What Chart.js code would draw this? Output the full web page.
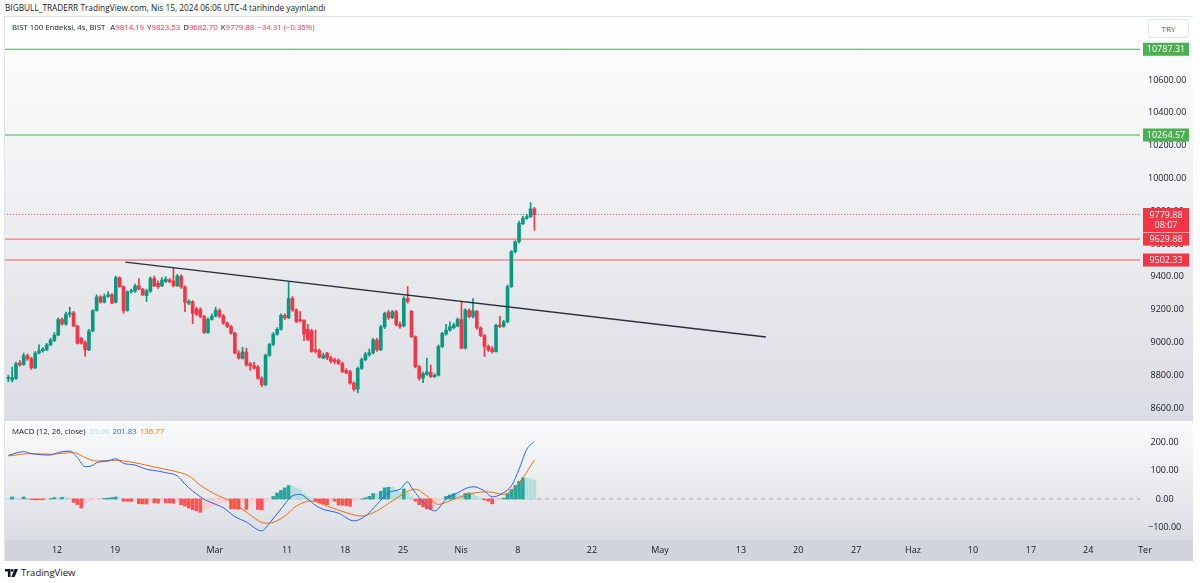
<!DOCTYPE html>
<html lang="tr">
<head>
  <meta charset="UTF-8">
  <title>BIST 100 Endeksi, 4s</title>
  <style>
    body { margin: 0; width: 1200px; height: 583px; background: #fff; font-family: "Open Sans", Arial, sans-serif; color: #131722; position: relative; overflow: hidden; }
    .top { position: absolute; left: 5px; top: 2px; font-size: 8.3px; white-space: nowrap; }
    .frame { position: absolute; left: 4px; top: 16px; width: 1189px; height: 545px; border: 1px solid #e0e3eb; box-sizing: border-box; }
    .pane { position: absolute; left: 5px; width: 1188px; }
    #pricePane { top: 17px; height: 404px; }
    #macdPane { top: 422px; height: 139px; }
    .legend { position: absolute; left: 12px; font-size: 7.8px; white-space: nowrap; }
    .legend span { margin-left: 3px; }
    .legend .red { color: #f23645; margin-left: 0; }
    .try { position: absolute; left: 1148px; top: 19px; width: 41px; height: 19px; background: #fff; border: 1px solid #e0e3eb; border-radius: 3px; font-size: 8px; color: #50535e; text-align: center; line-height: 18px; box-sizing: border-box; }
    .logo { position: absolute; left: 5px; top: 566px; font-size: 9.5px; display: flex; align-items: center; gap: 3px; }
  </style>
</head>
<body>
  <div class="top">BIGBULL_TRADERR TradingView.com, Nis 15, 2024 06:06 UTC-4 tarihinde yayınlandı</div>
  <div class="frame"></div>
  <div class="pane" id="pricePane"><canvas id="priceChart"></canvas></div>
  <div class="pane" id="macdPane"><canvas id="macdChart"></canvas></div>
  <div class="legend" style="top:22px">BIST 100 Endeksi, 4s, BIST <span>A<span class="red">9814.19</span></span><span>Y<span class="red">9823.53</span></span><span>D<span class="red">9682.70</span></span><span>K<span class="red">9779.88</span></span><span class="red" style="margin-left:3px">−34.31 (−0.35%)</span></div>
  <div class="legend" style="top:426px">MACD (12, 26, close)<span style="color:#b2dfdb;margin-left:4px">65.06</span><span style="color:#2962ff">201.83</span><span style="color:#ff6d00">136.77</span></div>
  <div class="try">TRY</div>
  <div class="logo">
    <svg width="13" height="8" viewBox="0 0 13 8"><path d="M0 0h5.5v8h-2.6V2.6H0z" fill="#131722"/><circle cx="7.2" cy="1.4" r="1.4" fill="#131722"/><path d="M9.6 0h3.4l-3.4 8H6.4z" fill="#131722"/></svg>
    <span>TradingView</span>
  </div>

  <script src="https://cdn.jsdelivr.net/npm/chart.js"></script>
  <script>
    // 4h candles (index 0 = first bar on the left)
    const opens  = [8780,8770,8780,8875,8865,8920,8900,8845,8935,8950, 8955,8985,9012,9045,9140,9112,9172,9180,9100,9025,
                    9000,8955,9070,9195,9278,9245,9280,9290,9245,9395, 9340,9195,9308,9312,9345,9325,9285,9312,9390,9360,
                    9345,9372,9380,9375,9345,9405,9338,9240,9248,9205, 9200,9158,9060,9140,9160,9195,9162,9118,9097,9056,
                    8935,8904,8942,8870,8858,8850,8782,8742,8922,8988, 9050,9080,9165,9150,9268,9198,9140,9135,9080,9070,
                    8955,8950,8905,8935,8905,8895,8890,8872,8830,8820, 8752,8715,8842,8895,8925,8937,9015,8955,9095,9185,
                    9150,9187,9110,9100,9268,9190,9035,8852,8782,8805, 8818,8792,8800,8975,9052,9075,9090,9100,9140,8965,
                    9195,9158,9190,9088,9042,8975,8962,8944,9106,9098, 9125,9340,9553,9614,9724,9757,9767,9814.19];
    const highs  = [8800,8850,8880,8890,8935,8930,8910,8945,8985,8970, 8995,9025,9060,9150,9150,9185,9215,9190,9105,9030,
                    9010,9080,9200,9290,9285,9295,9310,9300,9405,9400, 9345,9315,9325,9355,9390,9330,9325,9400,9405,9375,
                    9395,9400,9390,9458,9415,9412,9345,9260,9255,9215, 9212,9165,9150,9175,9215,9205,9170,9125,9105,9062,
                    8950,8970,8965,8878,8880,8860,8790,8930,8995,9060, 9090,9175,9175,9370,9280,9205,9188,9140,9110,9080,
                    9075,8960,8935,8940,8915,8905,8900,8880,8840,8830, 8760,8850,8905,8940,8960,9025,9025,9105,9185,9195,
                    9195,9195,9125,9280,9340,9195,9040,8860,8820,8905, 8862,8810,8985,9062,9110,9125,9118,9150,9248,9205,
                    9205,9268,9195,9095,9048,8985,8975,9112,9160,9135, 9350,9560,9620,9740,9770,9780,9852,9823.53];
    const lows   = [8760,8760,8775,8855,8860,8890,8835,8840,8930,8940, 8950,8980,9005,9040,9105,9105,9155,9095,8990,8990,
                    8915,8950,9065,9190,9240,9240,9275,9235,9240,9335, 9178,9190,9300,9305,9320,9285,9250,9305,9340,9330,
                    9340,9365,9362,9338,9340,9330,9188,9230,9115,9165, 9150,9055,9055,9135,9155,9150,9110,9090,9050,8930,
                    8898,8898,8855,8830,8838,8775,8730,8735,8915,8980, 9045,9075,9140,9145,9190,9120,9125,9010,9010,8940,
                    8935,8905,8900,8895,8875,8870,8865,8815,8810,8745, 8705,8693,8835,8888,8915,8930,8945,8950,9085,9140,
                    9145,9100,9085,9095,9240,9030,8845,8770,8754,8800, 8785,8785,8795,8968,9045,9068,9082,9095,8960,8960,
                    9150,9150,9080,9035,8913,8945,8935,8940,9090,9092, 9120,9335,9545,9605,9718,9750,9760,9682.70];
    const closes = [8785,8785,8870,8865,8920,8900,8845,8935,8950,8960, 8985,9015,9045,9140,9112,9172,9180,9100,8995,8995,
                    8955,9070,9195,9278,9245,9280,9290,9240,9395,9340, 9192,9308,9315,9345,9325,9290,9315,9390,9345,9340,
                    9380,9386,9370,9345,9405,9338,9245,9250,9178,9172, 9158,9060,9140,9160,9197,9160,9118,9097,9056,8935,
                    8904,8942,8862,8858,8843,8782,8742,8922,8988,9050, 9080,9165,9150,9268,9198,9128,9132,9050,9018,8945,
                    8945,8910,8922,8905,8885,8883,8872,8822,8816,8752, 8715,8842,8896,8928,8937,9015,8955,9095,9177,9150,
                    9187,9108,9098,9268,9250,9035,8852,8782,8810,8822, 8792,8800,8975,9055,9075,9096,9106,9140,8965,9197,
                    9158,9193,9088,9042,8975,8955,8944,9105,9097,9125, 9340,9553,9614,9726,9757,9767,9814,9779.88];

    // drawn levels and the trend line
    const levelValues = [10787.31, 10264.57, 9629.88, 9502.33];
    const lastPrice = 9779.88;
    const trendIdx = [30.5, 197.3];
    const trendVal = [9490, 9033];

    // MACD pane
    const histValues = [2,7,3,2,7,1,-2,-3,-3,-3, -2,1,5,5,6,6,2,-12,-20,-32,
                        -15,-8,-5,-3,-1,2,3,5,7,2, -8,-8,-9,-5,-17,-17,-18,-6,-14,-15,
                        -6,-14,-14,-15,-8,-20,-25,-32,-38,-42, -47,-40,-33,-27,-22,-17,-12,-10,-35,-35,
                        -36,-15,-37,-15,-10,-37,-38,-12,-5,9, 21,30,39,47,44,39,33,19,9,4,
                        -8,-14,-17,-20,-8,-8,-22,-22,-23,-26, -8,-4,0,4,9,19,19,27,39,41,
                        41,33,23,35,21,9,-8,-20,-28,-35, -37,-20,-10,-4,9,14,19,19,12,19,
                        21,21,9,4,-4,-8,-17,-5,-2,3, 19,33,47,62,74,73,70,65.06];
    const macdIdx = [0,4,6,11,13,16,18,20,22,23, 26,28,30,33,36,39,41,44,46,48, 51,54,56,59,62,66,68,71,74,76,
                     78,81,86,90,93,96,99,102,104,105, 107,109,111,114,117,121,124,126,129,131, 133,135,137];
    const macdVal = [153,166,159,154,163,168,145,113,118,127, 133,141,125,119,104,98,92,81,52,28, -1,-19,-31,-62,-81,-112,-85,-35,11,16,
                     -1,-31,-50,-77,-60,-19,22,34,60,40, 5,-25,-42,-1,22,43,28,7,22,46, 104,174,201.83];
    const signalIdx = [0,6,11,17,20,23,27,33,38,43, 47,50,54,58,62,67,69,72,75,79, 83,88,92,96,100,106,109,112,116,121, 125,129,133,137];
    const signalVal = [151,159,157,163,145,133,136,127,112,98, 81,48,16,-9,-46,-85,-82,-60,-25,-7, -25,-48,-60,-42,-7,34,11,-19,-1,20, 25,16,57,136.77];

    // time axis (bar index positions of the date labels)
    const timeTickPos = [12.7, 27.8, 53.8, 72.6, 87.7, 102.8, 117.9, 132.7, 152.0, 169.7, 190.8, 205.7, 220.8, 235.6, 251.2, 266.3, 281.2, 296.0];
    const timeTickLabels = ['12', '19', 'Mar', '11', '18', '25', 'Nis', '8', '22', 'May', '13', '20', '27', 'Haz', '10', '17', '24', 'Ter'];

    const UP = '#089981', DOWN = '#f23645';
    const GREEN_LVL = '#4caf50';
    const FONT = '"Open Sans", Arial, sans-serif';
    const X_MIN = -0.86, X_MAX = 294.7;
    const AXIS_W = 53;

    Chart.defaults.font.family = FONT;
    Chart.defaults.font.size = 9;
    Chart.defaults.color = '#131722';

    const candleColor = ctx => closes[ctx.dataIndex] >= opens[ctx.dataIndex] ? UP : DOWN;
    const flat = (v, color, dash, width) => ({
      type: 'line', data: [{ x: X_MIN - 1, y: v }, { x: X_MAX + 1, y: v }],
      borderColor: color, borderWidth: width || 1, borderDash: dash || [], pointRadius: 0, order: 5
    });

    const gradientFill = {
      id: 'gradientFill',
      beforeDraw(chart, args, opts) {
        const c = chart.ctx, a = chart.chartArea;
        const g = c.createLinearGradient(0, 0, 0, a.bottom);
        g.addColorStop(0, opts.top);
        g.addColorStop(1, opts.bottom);
        c.save();
        c.fillStyle = g;
        c.fillRect(0, 0, chart.width, a.bottom);
        if (opts.axisStrip) {
          c.fillStyle = '#d1d4dc';
          c.fillRect(0, a.bottom, chart.width, chart.height - a.bottom);
        }
        c.restore();
      }
    };

    function tag(c, x, y, w, text, color, sub) {
      const h = sub ? 24 : 13;
      c.fillStyle = color;
      c.fillRect(x, y - 6.5, w, h);
      c.fillStyle = '#fff';
      c.textAlign = 'center';
      c.textBaseline = 'middle';
      c.fillText(text, x + w / 2, y + 0.5);
      if (sub) c.fillText(sub, x + w / 2, y + 11);
    }

    const priceTags = {
      id: 'priceTags',
      afterDraw(chart) {
        const c = chart.ctx, ys = chart.scales.y, x0 = chart.chartArea.right + 3;
        c.save();
        c.font = '9px ' + FONT;
        tag(c, x0, ys.getPixelForValue(levelValues[0]), 46, levelValues[0].toFixed(2), GREEN_LVL);
        tag(c, x0, ys.getPixelForValue(levelValues[1]), 46, levelValues[1].toFixed(2), GREEN_LVL);
        tag(c, x0, ys.getPixelForValue(levelValues[3]), 46, levelValues[3].toFixed(2), DOWN);
        tag(c, x0, ys.getPixelForValue(levelValues[2]), 46, levelValues[2].toFixed(2), DOWN);
        tag(c, x0, ys.getPixelForValue(lastPrice), 46, lastPrice.toFixed(2), DOWN, '08:07');
        c.restore();
      }
    };

    const timeLabels = {
      id: 'timeLabels',
      afterDraw(chart) {
        const c = chart.ctx, xs = chart.scales.x, a = chart.chartArea;
        c.save();
        c.font = '9px ' + FONT;
        c.fillStyle = '#131722';
        c.textAlign = 'center';
        c.textBaseline = 'middle';
        timeTickPos.forEach((p, i) => c.fillText(timeTickLabels[i], xs.getPixelForValue(p), (a.bottom + chart.height) / 2));
        c.restore();
      }
    };

    const rightAxis = (min, max, step) => ({
      position: 'right', min, max,
      grid: { display: false }, border: { display: false },
      afterFit: s => { s.width = AXIS_W; s.paddingTop = 0; s.paddingBottom = 0; },
      ticks: {
        stepSize: step, includeBounds: false, crossAlign: 'center', padding: 0,
        callback: v => (v < 0 ? '−' + Math.abs(v).toFixed(2) : v.toFixed(2))
      }
    });

    new Chart(document.getElementById('priceChart'), {
      type: 'bar',
      data: {
        datasets: [
          { type: 'line', data: trendIdx.map((x, i) => ({ x, y: trendVal[i] })), borderColor: '#2a2e39', borderWidth: 1.3, pointRadius: 0, order: 0 },
          { data: opens.map((o, i) => ({ x: i, y: [o, closes[i]] })), backgroundColor: candleColor, barThickness: 3, minBarLength: 1, grouped: false, order: 1 },
          { data: lows.map((l, i) => ({ x: i, y: [l, highs[i]] })), backgroundColor: candleColor, barThickness: 1, grouped: false, order: 2 },
          flat(levelValues[0], GREEN_LVL),
          flat(levelValues[1], GREEN_LVL),
          flat(levelValues[2], 'rgba(242,54,69,0.8)'),
          flat(levelValues[3], 'rgba(242,54,69,0.8)'),
          flat(lastPrice, DOWN, [1, 2])
        ]
      },
      options: {
        responsive: true, maintainAspectRatio: false, animation: false,
        layout: { padding: 0 },
        plugins: { legend: { display: false }, tooltip: { enabled: false }, gradientFill: { top: '#ffffff', bottom: '#dadde3' } },
        scales: {
          x: { type: 'linear', min: X_MIN, max: X_MAX, offset: false, display: false },
          y: rightAxis(8521, 10984, 200)
        }
      },
      plugins: [gradientFill, priceTags]
    });

    const histColor = ctx => {
      const i = ctx.dataIndex, v = histValues[i], prev = i > 0 ? histValues[i - 1] : v;
      if (v >= 0) return prev < v ? '#26a69a' : '#b2dfdb';
      return prev < v ? '#ffcdd2' : '#ff5252';
    };

    new Chart(document.getElementById('macdChart'), {
      type: 'bar',
      data: {
        datasets: [
          { type: 'line', data: macdIdx.map((x, i) => ({ x, y: macdVal[i] })), borderColor: '#2962ff', borderWidth: 1, pointRadius: 0, cubicInterpolationMode: 'monotone', order: 0 },
          { type: 'line', data: signalIdx.map((x, i) => ({ x, y: signalVal[i] })), borderColor: '#ff6d00', borderWidth: 1, pointRadius: 0, cubicInterpolationMode: 'monotone', order: 1 },
          { data: histValues.map((v, i) => ({ x: i, y: v })), backgroundColor: histColor, barThickness: 3, grouped: false, order: 2 },
          flat(0, 'rgba(120,123,134,0.6)', [4, 4])
        ]
      },
      options: {
        responsive: true, maintainAspectRatio: false, animation: false,
        layout: { padding: 0 },
        plugins: { legend: { display: false }, tooltip: { enabled: false }, gradientFill: { top: '#fafbfc', bottom: '#dadde3', axisStrip: true } },
        scales: {
          x: {
            type: 'linear', min: X_MIN, max: X_MAX, offset: false,
            grid: { display: false }, border: { display: false },
            ticks: { display: false },
            afterFit: s => { s.height = 21; }
          },
          y: rightAxis(-144, 270, 100)
        }
      },
      plugins: [gradientFill, timeLabels]
    });
  </script>
</body>
</html>
